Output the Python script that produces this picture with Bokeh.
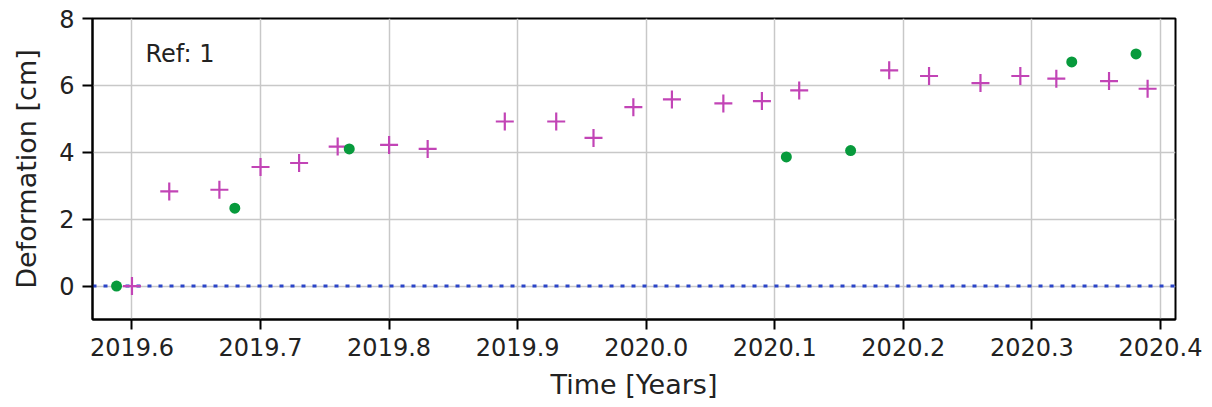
from bokeh.plotting import figure
from bokeh.models import Range1d, FixedTicker, PrintfTickFormatter, Span, Label
from bokeh.embed import file_html
from bokeh.resources import INLINE

# Data
plus_time = [2019.600, 2019.629, 2019.668, 2019.700, 2019.730, 2019.760, 2019.800,
             2019.830, 2019.890, 2019.930, 2019.959, 2019.990, 2020.020, 2020.060,
             2020.090, 2020.119, 2020.189, 2020.220, 2020.260, 2020.291, 2020.319,
             2020.360, 2020.390]
plus_def = [0.00, 2.83, 2.88, 3.56, 3.68, 4.17, 4.22, 4.10, 4.92, 4.92, 4.43, 5.35,
            5.58, 5.46, 5.53, 5.85, 6.45, 6.28, 6.07, 6.28, 6.20, 6.13, 5.90]
dot_time = [2019.588, 2019.680, 2019.769, 2020.109, 2020.159, 2020.331, 2020.381]
dot_def = [0.00, 2.33, 4.10, 3.86, 4.05, 6.70, 6.94]
x_ticks = [2019.6, 2019.7, 2019.8, 2019.9, 2020.0, 2020.1, 2020.2, 2020.3, 2020.4]
y_ticks = [0, 2, 4, 6, 8]
ref_text = "Ref: 1"

FONT = "DejaVu Sans"

p = figure(output_backend="svg", toolbar_location=None,
           frame_width=1083, frame_height=301,
           x_range=Range1d(2019.5693, 2020.4117), y_range=Range1d(-1, 8),
           x_axis_label="Time [Years]", y_axis_label="Deformation [cm]")
p.min_border_left = 92
p.min_border_right = 29
p.min_border_top = 18
p.min_border_bottom = 78
p.background_fill_color = "white"
p.border_fill_color = "white"
p.outline_line_color = "black"
p.outline_line_width = 2

p.xaxis.ticker = FixedTicker(ticks=x_ticks)
p.yaxis.ticker = FixedTicker(ticks=y_ticks)
p.xaxis.formatter = PrintfTickFormatter(format="%.1f")
p.yaxis.formatter = PrintfTickFormatter(format="%d")
for ax in (p.xaxis, p.yaxis):
    ax.major_label_text_font = FONT
    ax.major_label_text_font_size = "24px"
    ax.major_label_text_color = "#222222"
    ax.axis_label_text_font = FONT
    ax.axis_label_text_font_size = "27px"
    ax.axis_label_text_font_style = "normal"
    ax.axis_label_text_color = "#222222"
    ax.major_tick_in = 0
    ax.major_tick_out = 10
    ax.major_tick_line_width = 2
    ax.minor_tick_line_color = None
    ax.axis_line_color = "black"
    ax.axis_line_width = 2
    ax.major_label_standoff = 8
    ax.axis_label_standoff = 10
p.yaxis.axis_label_standoff = 14

p.grid.grid_line_color = "#c8c8c8"
p.grid.grid_line_width = 1.5

zero = Span(location=0, dimension="width", line_color="#2b45c8",
            line_width=3, line_dash="4 7", level="underlay")
p.add_layout(zero)

p.scatter(plus_time, plus_def, marker="cross", size=18, line_width=2.2,
          line_color="#c244b6")
p.scatter(dot_time, dot_def, marker="circle", size=11, line_color=None,
          fill_color="#079a3c")

p.add_layout(Label(x=2019.6105, y=6.95, text=ref_text, text_font=FONT,
                   text_font_size="24px", text_color="#222222",
                   text_baseline="alphabetic"))

open("out.html", "w").write(file_html(p, INLINE))
